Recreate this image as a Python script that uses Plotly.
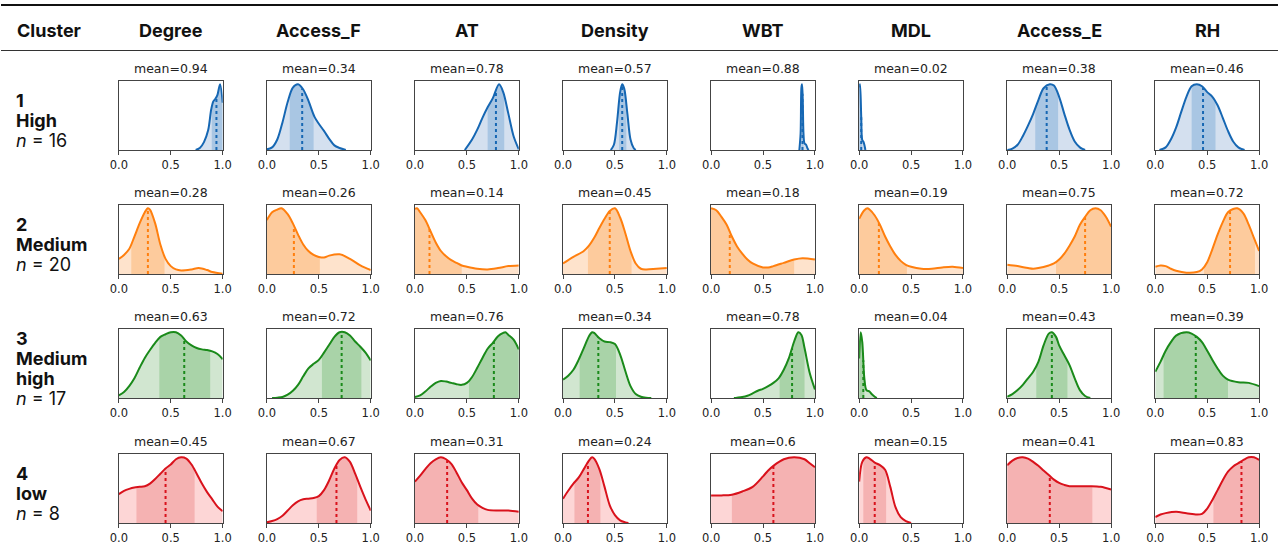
import numpy as np
import plotly.graph_objects as go

# ---------------- data ----------------
VARIABLES = ["Degree", "Access_F", "AT", "Density", "WBT", "MDL", "Access_E", "RH"]
CLUSTER_IDS = ["1", "2", "3", "4"]
CLUSTER_NAMES = [["High"], ["Medium"], ["Medium", "high"], ["low"]]
CLUSTER_SIZES = [16, 20, 17, 8]
TICK_VALUES = [0.0, 0.5, 1.0]
TICK_LABELS = ["0.0", "0.5", "1.0"]

MEANS_C1 = [0.94, 0.34, 0.78, 0.57, 0.88, 0.02, 0.38, 0.46]
MEANS_C2 = [0.28, 0.26, 0.14, 0.45, 0.18, 0.19, 0.75, 0.72]
MEANS_C3 = [0.63, 0.72, 0.76, 0.34, 0.78, 0.04, 0.43, 0.39]
MEANS_C4 = [0.45, 0.67, 0.31, 0.24, 0.6, 0.15, 0.41, 0.83]

BANDS_C1 = [(0.895, 1.0), (0.22, 0.45), (0.70, 0.86), (0.54, 0.61), (0.87, 0.89), (0.0, 0.03), (0.27, 0.49), (0.35, 0.58)]
BANDS_C2 = [(0.12, 0.44), (0.0, 0.51), (0.0, 0.45), (0.24, 0.66), (0.0, 0.8), (0.0, 0.46), (0.47, 1.0), (0.47, 0.96)]
BANDS_C3 = [(0.39, 0.88), (0.53, 0.91), (0.52, 1.0), (0.16, 0.51), (0.66, 0.9), (0.0, 0.05), (0.28, 0.58), (0.08, 0.7)]
BANDS_C4 = [(0.17, 0.73), (0.48, 0.87), (0.0, 0.61), (0.11, 0.36), (0.2, 1.0), (0.04, 0.26), (0.0, 0.82), (0.56, 1.0)]

# density curves (x, relative density)
CURVES_C1 = [
    [(0.74, 0), (0.78, 0.03), (0.82, 0.12), (0.86, 0.3), (0.89, 0.62), (0.91, 0.74), (0.93, 0.78), (0.95, 0.84), (0.975, 1.0), (1.0, 0.72)],
    [(0, 0.01), (0.05, 0.04), (0.1, 0.16), (0.15, 0.42), (0.2, 0.73), (0.25, 0.95), (0.3, 1.0), (0.35, 0.92), (0.4, 0.75), (0.46, 0.5), (0.5, 0.4), (0.55, 0.29), (0.6, 0.17), (0.65, 0.07), (0.7, 0.03), (0.76, 0)],
    [(0.48, 0), (0.55, 0.16), (0.6, 0.31), (0.65, 0.49), (0.7, 0.65), (0.75, 0.79), (0.81, 1.0), (0.85, 0.88), (0.9, 0.55), (0.95, 0.21), (1.0, 0.01)],
    [(0.46, 0), (0.49, 0.08), (0.52, 0.42), (0.55, 0.88), (0.57, 1.0), (0.59, 0.93), (0.62, 0.55), (0.65, 0.16), (0.68, 0.03), (0.7, 0)],
    [(0.85, 0), (0.862, 0.25), (0.87, 0.95), (0.876, 1.0), (0.883, 0.75), (0.89, 0.25), (0.9, 0.1), (0.915, 0.08), (0.93, 0.02), (0.94, 0)],
    [(0.0, 0.95), (0.008, 1.0), (0.02, 0.5), (0.03, 0.15), (0.04, 0.13), (0.05, 0.08), (0.06, 0)],
    [(0, 0), (0.05, 0.02), (0.1, 0.08), (0.15, 0.21), (0.2, 0.37), (0.25, 0.55), (0.3, 0.76), (0.35, 0.94), (0.41, 1.0), (0.45, 0.98), (0.5, 0.81), (0.55, 0.55), (0.6, 0.31), (0.65, 0.13), (0.7, 0.04), (0.75, 0)],
    [(0.04, 0), (0.1, 0.04), (0.15, 0.16), (0.2, 0.34), (0.25, 0.58), (0.3, 0.81), (0.35, 0.97), (0.4, 1.0), (0.45, 0.97), (0.5, 0.88), (0.55, 0.81), (0.6, 0.68), (0.65, 0.49), (0.7, 0.29), (0.75, 0.13), (0.8, 0.04), (0.86, 0)],
]
CURVES_C2 = [
    [(0, 0.23), (0.05, 0.29), (0.1, 0.38), (0.15, 0.57), (0.2, 0.77), (0.25, 0.94), (0.28, 1.0), (0.3, 0.98), (0.35, 0.77), (0.4, 0.45), (0.45, 0.23), (0.5, 0.12), (0.55, 0.07), (0.6, 0.055), (0.7, 0.07), (0.77, 0.09), (0.85, 0.06), (0.9, 0.03), (1.0, 0.005)],
    [(0, 0.82), (0.05, 0.94), (0.1, 0.98), (0.14, 1.0), (0.2, 0.91), (0.25, 0.77), (0.3, 0.6), (0.35, 0.45), (0.4, 0.35), (0.45, 0.29), (0.5, 0.26), (0.55, 0.25), (0.6, 0.28), (0.7, 0.3), (0.8, 0.23), (0.9, 0.13), (1.0, 0.06)],
    [(0, 0.99), (0.02, 1.0), (0.05, 0.94), (0.1, 0.82), (0.15, 0.65), (0.2, 0.48), (0.25, 0.35), (0.3, 0.27), (0.35, 0.21), (0.4, 0.17), (0.45, 0.13), (0.5, 0.11), (0.6, 0.08), (0.7, 0.07), (0.8, 0.09), (0.9, 0.12), (1.0, 0.13)],
    [(0, 0.16), (0.1, 0.26), (0.2, 0.35), (0.25, 0.43), (0.3, 0.55), (0.35, 0.7), (0.4, 0.84), (0.45, 0.96), (0.5, 1.0), (0.55, 0.86), (0.6, 0.62), (0.65, 0.35), (0.7, 0.16), (0.75, 0.08), (0.8, 0.07), (0.9, 0.08), (1.0, 0.09)],
    [(0, 1.0), (0.05, 0.97), (0.1, 0.87), (0.15, 0.75), (0.2, 0.57), (0.25, 0.42), (0.3, 0.31), (0.35, 0.22), (0.4, 0.16), (0.5, 0.1), (0.55, 0.1), (0.6, 0.12), (0.7, 0.17), (0.8, 0.22), (0.88, 0.24), (1.0, 0.22)],
    [(0, 0.84), (0.05, 0.97), (0.08, 1.0), (0.1, 0.98), (0.15, 0.89), (0.2, 0.75), (0.25, 0.57), (0.3, 0.42), (0.35, 0.29), (0.4, 0.2), (0.45, 0.14), (0.5, 0.11), (0.6, 0.08), (0.7, 0.08), (0.8, 0.1), (0.9, 0.11), (1.0, 0.09)],
    [(0, 0.14), (0.1, 0.12), (0.2, 0.09), (0.25, 0.08), (0.3, 0.09), (0.4, 0.13), (0.45, 0.16), (0.5, 0.22), (0.55, 0.31), (0.6, 0.43), (0.65, 0.57), (0.7, 0.75), (0.75, 0.87), (0.8, 0.97), (0.85, 1.0), (0.9, 0.97), (0.95, 0.87), (1.0, 0.72)],
    [(0, 0.11), (0.05, 0.13), (0.1, 0.12), (0.15, 0.08), (0.2, 0.05), (0.3, 0.02), (0.4, 0.03), (0.45, 0.07), (0.5, 0.18), (0.55, 0.38), (0.6, 0.6), (0.65, 0.79), (0.7, 0.94), (0.75, 0.99), (0.79, 1.0), (0.85, 0.92), (0.9, 0.75), (0.95, 0.55), (1.0, 0.35)],
]
CURVES_C3 = [
    [(0, 0.04), (0.05, 0.09), (0.1, 0.18), (0.15, 0.3), (0.2, 0.46), (0.25, 0.61), (0.3, 0.73), (0.35, 0.84), (0.4, 0.93), (0.45, 0.97), (0.5, 1.0), (0.55, 1.0), (0.6, 0.95), (0.65, 0.86), (0.7, 0.8), (0.75, 0.76), (0.8, 0.74), (0.85, 0.73), (0.9, 0.71), (0.95, 0.67), (1.0, 0.59)],
    [(0.05, 0), (0.1, 0.005), (0.15, 0.015), (0.2, 0.05), (0.25, 0.11), (0.3, 0.2), (0.35, 0.33), (0.4, 0.45), (0.45, 0.52), (0.5, 0.58), (0.55, 0.69), (0.6, 0.81), (0.65, 0.93), (0.7, 1.0), (0.75, 1.0), (0.8, 0.95), (0.85, 0.86), (0.9, 0.78), (0.95, 0.69), (1.0, 0.57)],
    [(0, 0.015), (0.05, 0.04), (0.1, 0.1), (0.15, 0.17), (0.2, 0.23), (0.25, 0.26), (0.3, 0.25), (0.35, 0.23), (0.4, 0.21), (0.45, 0.2), (0.5, 0.23), (0.55, 0.32), (0.6, 0.46), (0.65, 0.61), (0.7, 0.75), (0.75, 0.84), (0.8, 0.94), (0.85, 0.99), (0.87, 1.0), (0.9, 0.96), (0.95, 0.89), (1.0, 0.74)],
    [(0, 0.28), (0.05, 0.34), (0.1, 0.43), (0.15, 0.58), (0.2, 0.76), (0.25, 0.94), (0.28, 1.0), (0.3, 0.99), (0.35, 0.91), (0.4, 0.86), (0.45, 0.85), (0.5, 0.82), (0.55, 0.66), (0.6, 0.41), (0.65, 0.18), (0.7, 0.06), (0.75, 0.02), (0.8, 0.005), (0.85, 0)],
    [(0.22, 0), (0.25, 0.005), (0.3, 0.015), (0.35, 0.035), (0.4, 0.07), (0.45, 0.11), (0.5, 0.14), (0.55, 0.18), (0.6, 0.23), (0.65, 0.3), (0.7, 0.43), (0.75, 0.61), (0.8, 0.86), (0.84, 1.0), (0.87, 0.96), (0.9, 0.76), (0.95, 0.38), (1.0, 0.13)],
    [(0, 0.6), (0.015, 1.0), (0.03, 0.85), (0.05, 0.3), (0.07, 0.12), (0.1, 0.1), (0.12, 0.06), (0.15, 0.02), (0.17, 0)],
    [(0, 0.02), (0.05, 0.06), (0.1, 0.12), (0.15, 0.2), (0.2, 0.3), (0.25, 0.4), (0.3, 0.55), (0.35, 0.8), (0.4, 0.98), (0.43, 1.0), (0.47, 0.93), (0.5, 0.8), (0.55, 0.65), (0.6, 0.5), (0.65, 0.3), (0.7, 0.12), (0.75, 0.03), (0.8, 0)],
    [(0, 0.4), (0.05, 0.55), (0.1, 0.72), (0.15, 0.85), (0.2, 0.95), (0.3, 1.0), (0.35, 0.98), (0.4, 0.93), (0.45, 0.85), (0.5, 0.72), (0.55, 0.58), (0.6, 0.45), (0.65, 0.34), (0.7, 0.28), (0.8, 0.24), (0.9, 0.23), (1.0, 0.18)],
]
CURVES_C4 = [
    [(0, 0.44), (0.05, 0.49), (0.1, 0.52), (0.15, 0.54), (0.2, 0.55), (0.25, 0.56), (0.3, 0.6), (0.35, 0.67), (0.4, 0.75), (0.45, 0.83), (0.5, 0.89), (0.55, 0.97), (0.6, 1.0), (0.65, 0.98), (0.7, 0.89), (0.75, 0.75), (0.8, 0.6), (0.85, 0.47), (0.9, 0.36), (0.95, 0.25), (1.0, 0.18)],
    [(0, 0.01), (0.05, 0.03), (0.1, 0.06), (0.15, 0.11), (0.2, 0.19), (0.25, 0.27), (0.3, 0.33), (0.35, 0.36), (0.4, 0.37), (0.45, 0.38), (0.5, 0.41), (0.55, 0.5), (0.6, 0.65), (0.65, 0.83), (0.7, 0.96), (0.75, 1.0), (0.8, 0.93), (0.85, 0.75), (0.9, 0.55), (0.95, 0.36), (1.0, 0.19)],
    [(0, 0.63), (0.05, 0.72), (0.1, 0.82), (0.15, 0.91), (0.2, 0.97), (0.25, 1.0), (0.3, 0.97), (0.35, 0.9), (0.4, 0.77), (0.45, 0.62), (0.5, 0.5), (0.55, 0.37), (0.6, 0.28), (0.65, 0.23), (0.7, 0.2), (0.8, 0.19), (0.9, 0.19), (1.0, 0.17)],
    [(0, 0.37), (0.05, 0.49), (0.1, 0.6), (0.15, 0.69), (0.2, 0.82), (0.25, 0.95), (0.28, 1.0), (0.3, 0.98), (0.35, 0.82), (0.4, 0.55), (0.45, 0.27), (0.5, 0.12), (0.55, 0.04), (0.6, 0.01), (0.63, 0)],
    [(0, 0.42), (0.1, 0.42), (0.2, 0.43), (0.3, 0.48), (0.4, 0.55), (0.5, 0.71), (0.55, 0.8), (0.6, 0.87), (0.7, 0.97), (0.8, 1.0), (0.9, 0.97), (0.95, 0.91), (1.0, 0.85)],
    [(0, 0.63), (0.03, 0.93), (0.07, 1.0), (0.1, 0.98), (0.15, 0.92), (0.2, 0.88), (0.25, 0.81), (0.3, 0.55), (0.35, 0.24), (0.4, 0.09), (0.45, 0.03), (0.5, 0)],
    [(0, 0.88), (0.05, 0.95), (0.1, 0.99), (0.15, 1.0), (0.2, 0.98), (0.25, 0.93), (0.3, 0.87), (0.35, 0.8), (0.4, 0.73), (0.45, 0.66), (0.5, 0.61), (0.55, 0.58), (0.6, 0.56), (0.7, 0.56), (0.8, 0.56), (0.9, 0.55), (1.0, 0.51)],
    [(0, 0.09), (0.05, 0.13), (0.1, 0.15), (0.2, 0.17), (0.3, 0.15), (0.4, 0.13), (0.45, 0.14), (0.5, 0.22), (0.55, 0.35), (0.6, 0.5), (0.65, 0.65), (0.7, 0.78), (0.75, 0.86), (0.8, 0.91), (0.85, 0.96), (0.9, 1.0), (0.95, 1.0), (1.0, 0.96)],
]

MEANS = [MEANS_C1, MEANS_C2, MEANS_C3, MEANS_C4]
BANDS = [BANDS_C1, BANDS_C2, BANDS_C3, BANDS_C4]
CURVES = [CURVES_C1, CURVES_C2, CURVES_C3, CURVES_C4]

# ---------------- style ----------------
LINE_COLORS = ["#1667b3", "#ff7f0e", "#1a8a1a", "#d9121c"]
LIGHT_FILLS = ["#d4e0ef", "#fee3cc", "#d1e6d0", "#fdd6d6"]
BAND_FILLS = ["#a9c6e3", "#fdcb9d", "#a9d3a8", "#f5b2b2"]

W, H = 1279, 560
# the page shows the paper between x=8 and x=1271, so map target pixels onto that span
X_OFF, X_SPAN = 8, 1263
PANEL_W = 104
PANEL_LEFT0 = 118
PANEL_STEP = 148.3
ROW_TOPS = [81, 205, 329, 454]
PANEL_H = 69
TEXT_FONT = "DejaVu Sans, Liberation Sans, Arial, sans-serif"
HEAD_FONT = "Inter, Liberation Sans, Arial, sans-serif"


def px(x):
    return (x - X_OFF) / X_SPAN


def py(y):
    return 1 - y / H


fig = go.Figure()
layout_axes = {}
annotations = []

for r in range(4):
    for c in range(8):
        k = r * 8 + c + 1
        sfx = "" if k == 1 else str(k)
        xa, ya = "x" + sfx, "y" + sfx
        left = PANEL_LEFT0 + PANEL_STEP * c
        top = ROW_TOPS[r]
        layout_axes["xaxis" + sfx] = dict(
            domain=[px(left), px(left + PANEL_W)], anchor=ya, range=[0, 1],
            tickvals=TICK_VALUES, ticktext=TICK_LABELS, ticks="outside", ticklen=4,
            tickcolor="#444", tickwidth=1, showline=True, mirror=True, linecolor="#444",
            linewidth=1, showgrid=False, zeroline=False,
            tickfont=dict(family=TEXT_FONT, size=11.5, color="#222"), fixedrange=True,
        )
        layout_axes["yaxis" + sfx] = dict(
            domain=[py(top + PANEL_H), py(top)], anchor=xa, range=[0, 1.05],
            showticklabels=False, ticks="", showline=True, mirror=True, linecolor="#444",
            linewidth=1, showgrid=False, zeroline=False, fixedrange=True,
        )
        pts = CURVES[r][c]
        xs = np.array([p[0] for p in pts])
        ys = np.array([p[1] for p in pts])
        lo, hi = BANDS[r][c]
        mean = MEANS[r][c]

        # full light fill
        fig.add_trace(go.Scatter(
            x=xs, y=ys, xaxis=xa, yaxis=ya, mode="lines",
            line=dict(width=0, shape="spline", smoothing=0.9, color=LIGHT_FILLS[r]),
            fill="tozeroy", fillcolor=LIGHT_FILLS[r], hoverinfo="skip", showlegend=False))
        # band fill
        lo_c = max(lo, xs.min())
        hi_c = min(hi, xs.max())
        inner = (xs > lo_c) & (xs < hi_c)
        bx = np.concatenate([[lo_c], xs[inner], [hi_c]])
        by = np.concatenate([[np.interp(lo_c, xs, ys)], ys[inner], [np.interp(hi_c, xs, ys)]])
        fig.add_trace(go.Scatter(
            x=bx, y=by, xaxis=xa, yaxis=ya, mode="lines",
            line=dict(width=0, shape="spline", smoothing=0.9, color=BAND_FILLS[r]),
            fill="tozeroy", fillcolor=BAND_FILLS[r], hoverinfo="skip", showlegend=False))
        # curve
        fig.add_trace(go.Scatter(
            x=xs, y=ys, xaxis=xa, yaxis=ya, mode="lines",
            line=dict(width=2, shape="spline", smoothing=0.9, color=LINE_COLORS[r]),
            hoverinfo="skip", showlegend=False))
        # mean line
        fig.add_trace(go.Scatter(
            x=[mean, mean], y=[0, float(np.interp(mean, xs, ys))], xaxis=xa, yaxis=ya,
            mode="lines", line=dict(width=2, dash="dot", color=LINE_COLORS[r]),
            hoverinfo="skip", showlegend=False))
        annotations.append(dict(
            x=px(left + PANEL_W / 2), y=py(top - 13), xref="paper", yref="paper",
            text=f"mean={mean}", showarrow=False, xanchor="center", yanchor="middle",
            font=dict(family=TEXT_FONT, size=12.5, color="#222")))

# column headers
annotations.append(dict(x=px(14), y=py(30), xref="paper", yref="paper", text="<b>Cluster</b>",
                        showarrow=False, xanchor="left", yanchor="middle",
                        font=dict(family=HEAD_FONT, size=18, color="#111")))
for c, name in enumerate(VARIABLES):
    annotations.append(dict(x=px(PANEL_LEFT0 + PANEL_STEP * c + PANEL_W / 2), y=py(30),
                            xref="paper", yref="paper", text=f"<b>{name}</b>", showarrow=False,
                            xanchor="center", yanchor="middle",
                            font=dict(family=HEAD_FONT, size=18, color="#111")))

# row labels
for r in range(4):
    lines = [f"<b>{CLUSTER_IDS[r]}</b>"] + [f"<b>{t}</b>" for t in CLUSTER_NAMES[r]] + [f"<i>n</i> = {CLUSTER_SIZES[r]}"]
    n = len(lines)
    center = ROW_TOPS[r] + PANEL_H / 2 + 5
    start = center - (n - 1) * 20 / 2
    for i, t in enumerate(lines):
        annotations.append(dict(x=px(13), y=py(start + 20 * i), xref="paper", yref="paper",
                                text=t, showarrow=False, xanchor="left", yanchor="middle",
                                font=dict(family=HEAD_FONT, size=18, color="#111")))

shapes = [
    dict(type="line", xref="paper", yref="paper", x0=px(0), x1=px(W), y0=py(5), y1=py(5),
         line=dict(color="#111", width=2)),
    dict(type="line", xref="paper", yref="paper", x0=px(0), x1=px(W), y0=py(50.5), y1=py(50.5),
         line=dict(color="#333", width=1)),
]

fig.update_layout(
    width=W, height=H, margin=dict(l=0, r=0, t=0, b=0),
    paper_bgcolor="white", plot_bgcolor="white",
    annotations=annotations, shapes=shapes, showlegend=False,
    **layout_axes,
)

POST = (
    "document.documentElement.style.margin='0px';"
    "document.body.style.margin='0px';document.body.style.padding='0px';"
    "document.body.style.overflow='hidden';"
)

fig.write_html(
    "out.html",
    config={"displayModeBar": False, "responsive": False},
    post_script=POST,
)
